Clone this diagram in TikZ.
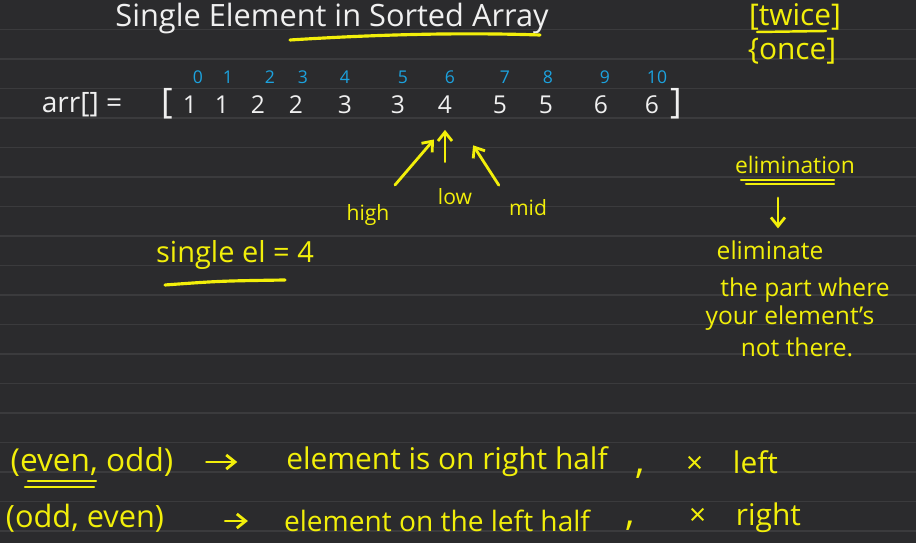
\documentclass[tikz,border=0pt]{standalone}
\usepackage{fontspec}
\setmainfont{Open Sans}
\usepackage{tikz}
\usetikzlibrary{arrows.meta,calc}
\definecolor{board}{HTML}{2B2B2D}
\definecolor{boardline}{HTML}{3B3B3D}
\definecolor{penyellow}{HTML}{F2EF0A}
\definecolor{pencyan}{HTML}{1CA2DE}
\definecolor{chalk}{HTML}{F0F0F0}
\tikzset{
  chalktxt/.style={text=chalk,inner sep=1pt},
  ink/.style={text=penyellow,inner sep=1pt,font=\fontsize{14}{16}\selectfont},
  inkL/.style={text=penyellow,inner sep=1pt,font=\fontsize{17}{19}\selectfont},
  idx/.style={text=pencyan,inner sep=1pt,font=\fontsize{10}{12}\selectfont},
  cell/.style={text=chalk,inner sep=1pt,font=\fontsize{14}{16}\selectfont},
  hl/.style={penyellow,line width=1.8pt,line cap=round},
  yarr/.style={-{Straight Barb[length=5pt,width=8pt]},penyellow,line width=1.6pt,line cap=round},
  rule/.style={boardline,line width=0.9pt},
}

\begin{document}
\begin{tikzpicture}[x=0.02cm,y=-0.02cm]
  %% ── Board ────────────────────────────────────────────────────────────────
  \fill[board] (0,0) rectangle (916,543);
  \useasboundingbox (0,0) rectangle (916,543);
  \foreach \k in {1,...,18}
    \draw[rule] (0,29.5*\k) -- (916,29.5*\k);

  %% ── Title ────────────────────────────────────────────────────────────────
  \node[chalktxt,font=\fontsize{17.5}{20}\selectfont] (title) at (332,19) {Single Element in Sorted Array};
  \draw[hl] (290,40) .. controls (400,33) and (480,33) .. (540,35);

  \node[inkL] (twice) at (795,17) {[twice]};
  \draw[hl,line width=1.4pt] (757,32) -- (826,31);
  \node[inkL] (once) at (792,51) {\{once]};

  %% ── Array and indices ────────────────────────────────────────────────────
  \foreach \i/\x in {0/198,1/228,2/270,3/303,4/345,5/403,6/450,7/505,8/548,9/605,10/657}
    \node[idx] (i\i) at (\x,77) {\i};

  \node[cell,font=\fontsize{16}{18}\selectfont] (arr) at (82,105) {arr[] =};
  \node[cell,font=\fontsize{20}{22}\selectfont] (lb) at (167,104) {[};
  \foreach \i/\x/\v in {0/190/1,1/222/1,2/258/2,3/296/2,4/345/3,5/398/3,6/445/4,7/500/5,8/546/5,9/601/6,10/652/6}
    \node[cell] (a\i) at (\x,105) {\v};
  \node[cell,font=\fontsize{20}{22}\selectfont] (rb) at (676,104) {]};

  %% ── Pointers ─────────────────────────────────────────────────────────────
  \node[ink,font=\fontsize{12}{14}\selectfont] (low)  at (455,197) {low};
  \node[ink,font=\fontsize{12}{14}\selectfont] (high) at (368,215) {high};
  \node[ink,font=\fontsize{12}{14}\selectfont] (mid)  at (528,208) {mid};
  \coordinate (highTail) at (395,185);
  \draw[yarr,shorten >=0.62cm] (highTail) -- (a6.south east);
  \draw[yarr,shorten <=0.5cm,shorten >=0.28cm] (low.north -| a6.south) -- (a6.south);
  \draw[yarr,shorten <=0.3cm,shorten >=0.7cm] (mid.north west) -- (a6.south east);

  \node[ink,font=\fontsize{16.5}{18}\selectfont] (single) at (235,255) {single el = 4};
  \draw[hl] (165,285) .. controls (220,281) .. (285,280);

  %% ── Elimination ──────────────────────────────────────────────────────────
  \node[ink,font=\fontsize{13}{15}\selectfont] (elim) at (795,165) {elimination};
  \draw[hl,line width=1.2pt] (741,180) -- (834,180);
  \draw[hl,line width=1.2pt] (746,184) -- (834,184);

  \node[ink] (el1) at (770,250) {eliminate};
  \node[ink] (el2) at (805,290) {the part where};
  \node[ink] (el3) at (790,318) {your element's};
  \node[ink] (el4) at (797,347) {not there.};
  \coordinate (elimTail) at (778,198);
  \draw[yarr] (elimTail) -- ($(elimTail |- el1.north)+(0,-10)$);

  %% ── Rules ────────────────────────────────────────────────────────────────
  \node[inkL,font=\fontsize{18}{20}\selectfont] (eo) at (92,462) {(even, odd)};
  \draw[hl,line width=1.4pt] (28,481) -- (96,481);
  \draw[hl,line width=1.4pt] (25,487) -- (94,487);
  \node[inkL] (rh) at (447,462) {element is on right half};
  \node[inkL,font=\fontsize{22}{24}\selectfont] (c1) at (640,474) {,};
  \node[inkL] (xl) at (732,462) {×\quad left};
  \draw[yarr,shorten <=0.62cm,shorten >=0.94cm] (eo) -- (rh);

  \node[inkL,font=\fontsize{17.5}{19}\selectfont] (oe) at (85,518) {(odd, even)};
  \node[inkL,font=\fontsize{16}{18}\selectfont] (lh) at (437,521) {element on the left half};
  \node[inkL,font=\fontsize{22}{24}\selectfont] (c2) at (630,526) {,};
  \node[inkL] (xr) at (745,518) {×\quad right};
  \draw[yarr,shorten <=1.18cm,shorten >=0.68cm] (oe.east |- lh) -- (lh);
\end{tikzpicture}
\end{document}
